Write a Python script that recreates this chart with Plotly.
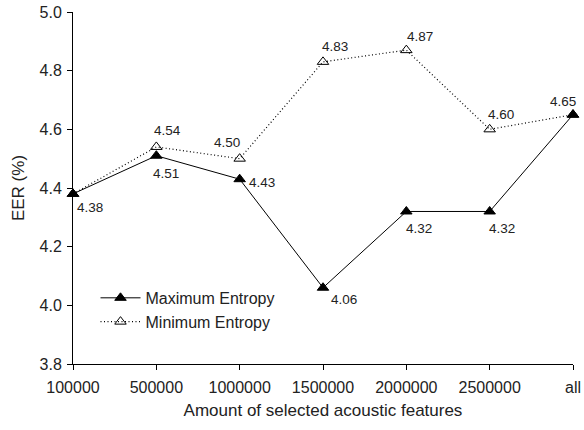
import plotly.graph_objects as go

categories = ["100000", "500000", "1000000", "1500000", "2000000", "2500000", "all"]
max_entropy = [4.38, 4.51, 4.43, 4.06, 4.32, 4.32, 4.65]
min_entropy = [4.38, 4.54, 4.50, 4.83, 4.87, 4.60, 4.65]

# label offsets in pixels (dx, dy) ; None = no label
max_offsets = [(17, 14), (10, 18), (22, 3), (21, 12), (13, 17), (12, 17), None]
min_offsets = [None, (11, -16), (-13, -16), (12, -15), (14, -14), (11, -15), (-10, -13)]

FONT = "Liberation Sans, Arial, sans-serif"

fig = go.Figure()
fig.add_trace(go.Scatter(
    x=categories, y=max_entropy, name="Maximum Entropy", mode="lines+markers",
    line=dict(color="black", width=1),
    marker=dict(symbol="triangle-up", size=10, color="black", line=dict(color="black", width=1)),
    cliponaxis=False,
))
fig.add_trace(go.Scatter(
    x=categories, y=min_entropy, name="Minimum Entropy", mode="lines+markers",
    line=dict(color="black", width=1.2, dash="1px,2.5px"),
    marker=dict(symbol="triangle-up-open", size=10, color="black", line=dict(color="black", width=1)),
    cliponaxis=False,
))

annotations = []
for series, offs in ((max_entropy, max_offsets), (min_entropy, min_offsets)):
    for i, (c, v) in enumerate(zip(categories, series)):
        if offs[i] is None:
            continue
        dx, dy = offs[i]
        annotations.append(dict(
            x=i, y=v, xref="x", yref="y", text=f"{v:.2f}", showarrow=False,
            xshift=dx, yshift=-dy, font=dict(family=FONT, size=13.5, color="#222"),
        ))

fig.update_layout(
    width=584, height=430,
    margin=dict(l=73, r=11, t=12, b=66),
    paper_bgcolor="white", plot_bgcolor="white",
    font=dict(family=FONT, size=16, color="#222"),
    showlegend=True,
    legend=dict(x=0.045, y=0.236, xanchor="left", yanchor="top", bgcolor="rgba(0,0,0,0)",
                font=dict(size=16), itemwidth=40, tracegroupgap=0),
    annotations=annotations,
    xaxis=dict(type="category", range=[0, 6], showline=True, linecolor="black", linewidth=1,
               ticks="outside", ticklen=5, tickcolor="black", showgrid=False, zeroline=False,
               automargin=False, ticklabelstandoff=4,
               title=dict(text="Amount of selected acoustic features", font=dict(size=17), standoff=8),
               tickfont=dict(size=16)),
    yaxis=dict(range=[3.8, 5.0], dtick=0.2, tickformat=".1f", showline=True, linecolor="black",
               linewidth=1, ticks="outside", ticklen=5, tickcolor="black", showgrid=False,
               zeroline=False, automargin=False, ticklabelstandoff=2,
               title=dict(text="EER (%)", font=dict(size=17), standoff=10),
               tickfont=dict(size=16)),
)

fig.write_html("out.html", config={"displayModeBar": False},
               post_script="document.body.style.margin='0';document.body.style.padding='0';")
